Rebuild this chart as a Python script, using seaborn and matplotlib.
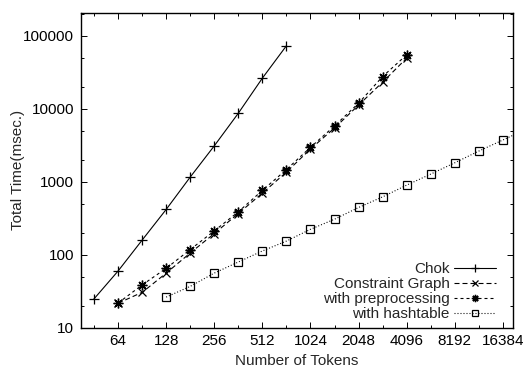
import matplotlib
matplotlib.use("Agg")
import matplotlib.pyplot as plt
import matplotlib.ticker as mticker
import seaborn as sns
import pandas as pd

# token counts (sqrt(2) steps)
tokens = [45, 64, 91, 128, 181, 256, 362, 512, 724, 1024, 1448, 2048,
          2896, 4096, 5793, 8192, 11585, 16384, 23170]

chok = [24.3, 59.4, 160, 415, 1153, 3090, 8650, 26200, 72800]
constraint_graph = [21.5, 30.5, 55.6, 105, 194, 365, 695, 1350, 2800,
                    5430, 11200, 23100, 49300]
preprocessing = [21.6, 38.6, 64.7, 117, 211, 385, 757, 1462, 2953,
                 5790, 11880, 27600, 54800]
hashtable = [26.1, 36.6, 55.7, 79, 112, 153, 222, 305, 442, 618, 895,
             1268, 1812, 2624, 3720, 5300]

x_ticklabels = [64, 128, 256, 512, 1024, 2048, 4096, 8192, 16384]
y_ticklabels = [10, 100, 1000, 10000, 100000]

sns.set_theme(style="ticks")
plt.rcParams["font.family"] = ["Liberation Sans", "DejaVu Sans"]
plt.rcParams["font.size"] = 11

fig = plt.figure(figsize=(5.24, 3.71), dpi=100)
ax = fig.add_axes([81 / 524, 1 - 327.5 / 371, (513 - 81) / 524, (327.5 - 13.3) / 371])

df_chok = pd.DataFrame({"tokens": tokens[0:9], "time": chok})
df_cg = pd.DataFrame({"tokens": tokens[1:14], "time": constraint_graph})
df_pre = pd.DataFrame({"tokens": tokens[1:14], "time": preprocessing})
df_hash = pd.DataFrame({"tokens": tokens[3:19], "time": hashtable})

lw = 0.8
sns.lineplot(data=df_chok, x="tokens", y="time", ax=ax, color="black", lw=lw,
             marker="+", markersize=7, mew=0.9, mec="black", label="Chok")
sns.lineplot(data=df_cg, x="tokens", y="time", ax=ax, color="black", lw=lw,
             linestyle=(0, (4.5, 2.7)),
             marker="x", markersize=6, mew=0.9, mec="black", label="Constraint Graph")
sns.lineplot(data=df_pre, x="tokens", y="time", ax=ax, color="black", lw=lw,
             linestyle=(0, (2.7, 2.7)),
             marker=(8, 2, 0), markersize=7, mew=1.0, mec="black",
             label="with preprocessing")
sns.lineplot(data=df_hash, x="tokens", y="time", ax=ax, color="black", lw=lw,
             linestyle=(0, (0.9, 1.8)),
             marker="s", markersize=6, mfc="none", mec="black", mew=0.9,
             label="with hashtable")

ax.set_xscale("log", base=2)
ax.set_yscale("log")
ax.set_xlim(2 ** 5.23, 2 ** 14.21)
ax.set_ylim(10, 203000)

ax.set_xticks(x_ticklabels)
ax.set_xticklabels([str(v) for v in x_ticklabels])
ax.xaxis.set_minor_locator(mticker.LogLocator(base=2, subs=(2 ** 0.5,)))
ax.xaxis.set_minor_formatter(mticker.NullFormatter())
ax.set_yticks(y_ticklabels)
ax.set_yticklabels([str(v) for v in y_ticklabels])
ax.yaxis.set_minor_locator(mticker.LogLocator(base=10, subs=(2, 5)))
ax.yaxis.set_minor_formatter(mticker.NullFormatter())

ax.tick_params(which="both", direction="in", top=True, right=True,
               colors="black", width=0.7, labelsize=11)
ax.tick_params(which="major", length=4, pad=5)
ax.tick_params(which="minor", length=2.2)
for s in ax.spines.values():
    s.set_visible(True)
    s.set_linewidth(1.0)
    s.set_color("black")

ax.set_xlabel("Number of Tokens", fontsize=11, labelpad=4)
ax.set_ylabel("Total Time(msec.)", fontsize=11, labelpad=-1.5)
ax.grid(False)

ax.legend(loc="lower right", markerfirst=False, frameon=False, fontsize=11,
          handlelength=2.7, handletextpad=0.3, labelspacing=0.07,
          borderaxespad=0.0, bbox_to_anchor=(0.974, 0.0), markerscale=0.75)

fig.savefig("out.png", dpi=100)
